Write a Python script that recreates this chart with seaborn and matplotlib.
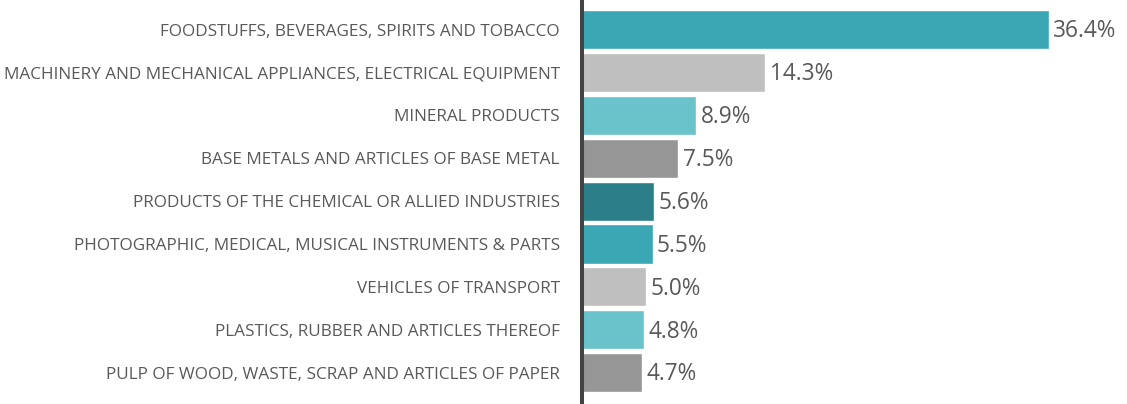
import matplotlib
matplotlib.use("Agg")
import matplotlib.pyplot as plt
import seaborn as sns
import pandas as pd

categories = [
    "FOODSTUFFS, BEVERAGES, SPIRITS AND TOBACCO",
    "MACHINERY AND MECHANICAL APPLIANCES, ELECTRICAL EQUIPMENT",
    "MINERAL PRODUCTS",
    "BASE METALS AND ARTICLES OF BASE METAL",
    "PRODUCTS OF THE CHEMICAL OR ALLIED INDUSTRIES",
    "PHOTOGRAPHIC, MEDICAL, MUSICAL INSTRUMENTS & PARTS",
    "VEHICLES OF TRANSPORT",
    "PLASTICS, RUBBER AND ARTICLES THEREOF",
    "PULP OF WOOD, WASTE, SCRAP AND ARTICLES OF PAPER",
]
values = [36.4, 14.3, 8.9, 7.5, 5.6, 5.5, 5.0, 4.8, 4.7]
colors = ["#3BA7B4", "#BFBFBF", "#6AC2CB", "#969696", "#2C7F89",
          "#3BA7B4", "#BFBFBF", "#6AC2CB", "#969696"]

df = pd.DataFrame({"category": categories, "value": values})

sns.set_style("white")
plt.rcParams["font.family"] = ["Open Sans", "DejaVu Sans"]

fig = plt.figure(figsize=(11.27, 4.04), dpi=100)
ax = fig.add_axes([582 / 1127, 0.0, 1 - 582 / 1127, 1.0])

sns.barplot(data=df, x="value", y="category", hue="category",
            palette=colors, orient="h", width=0.91, legend=False,
            saturation=1, ax=ax)

ax.set_xlim(0, 42.5)
ax.set_ylim(8.73, -0.688)
ax.set_xlabel("")
ax.set_ylabel("")
ax.set_xticks([])
for s in ["top", "right", "bottom"]:
    ax.spines[s].set_visible(False)
ax.spines["left"].set_color("#444444")
ax.spines["left"].set_linewidth(2.9)
ax.tick_params(axis="y", length=0, pad=16, labelsize=12.3, labelcolor="#595959")

for i, v in enumerate(values):
    ax.text(v + 0.35, i + 0.04, f"{v:.1f}%", va="center", ha="left",
            fontsize=16.3, color="#595959")

fig.savefig("out.png", dpi=100)
